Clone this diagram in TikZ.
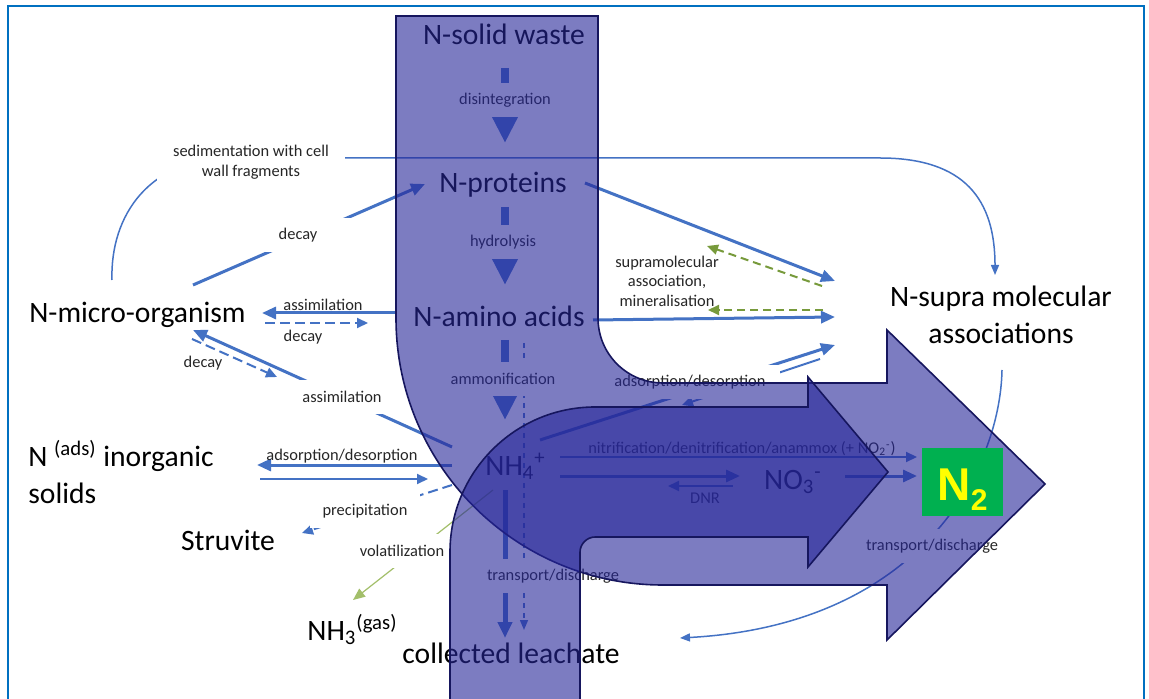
\documentclass[tikz,border=0pt]{standalone}
\usepackage{fontspec}
\setmainfont{Carlito}
\newfontfamily\boldsans{Liberation Sans Bold}
\usetikzlibrary{arrows.meta}

\definecolor{framebl}{HTML}{0070C0}
\definecolor{flowbl}{HTML}{4472C4}
\definecolor{bandbl}{HTML}{262699}
\definecolor{bandln}{HTML}{16165E}
\definecolor{olivegr}{HTML}{779A3B}
\definecolor{lightgr}{HTML}{A3BF6A}
\definecolor{ntwogreen}{HTML}{00B050}
\definecolor{ntwotext}{HTML}{FFFF00}

\tikzset{
  big/.style={font=\fontsize{14.8}{18.5}\selectfont, inner sep=0pt, align=center},
  lbl/.style={font=\fontsize{8.2}{9.8}\selectfont, text=black!85, inner sep=1pt, align=center},
  cut/.style={lbl, fill=white, minimum height=17pt, inner xsep=4pt},
  flow/.style={flowbl, line width=1.5pt, -{Triangle[length=7pt,width=6pt]}},
  thinflow/.style={flowbl, line width=1pt, -{Triangle[length=5.5pt,width=5pt]}},
  dashflow/.style={thinflow, dash pattern=on 5pt off 2.5pt},
  greenflow/.style={olivegr, line width=1pt, dash pattern=on 4pt off 2.5pt, -{Triangle[length=5.5pt,width=5pt]}},
  fineflow/.style={flowbl, line width=0.75pt, -{Triangle[length=5pt,width=4pt]}},
  fatflow/.style={flowbl, line width=4pt, -{Triangle[length=13pt,width=12pt]}},
  band/.style={fill=bandbl, fill opacity=0.6, draw=bandln, line width=0.8pt},
  n2box/.style={fill=ntwogreen, text=ntwotext, inner sep=0pt, minimum width=40.5pt,
    text height=26pt, text depth=8pt, font=\boldsans\fontsize{23}{23}\selectfont},
}

\begin{document}
\begin{tikzpicture}[x=0.5pt, y=-0.5pt]
\useasboundingbox (0,0) rectangle (1149,699);
\fill[white] (0,0) rectangle (1149,699);
\draw[framebl, line width=1.4pt] (8,6) rectangle (1144,740);

% end points of the connectors
\coordinate (sol-s) at (505,68);    \coordinate (prot-n) at (505,143);
\coordinate (prot-s) at (505,207);  \coordinate (amino-n) at (505,285);
\coordinate (amino-s) at (505,340); \coordinate (nh-n) at (505,420);
\coordinate (amino-sd) at (524,343); \coordinate (leach-nd) at (524,630);
\coordinate (nh-s) at (505,490);    \coordinate (leach-n) at (505,638);
\coordinate (micro-ne) at (193,285); \coordinate (prot-w) at (425,184);
\coordinate (amino-w) at (397,313); \coordinate (micro-e) at (262,313);
\coordinate (micro-e2) at (265,323); \coordinate (amino-w2) at (368,323);
\coordinate (micro-se) at (192,339); \coordinate (decay-in) at (277,377);
\coordinate (nh-nw) at (452,447);   \coordinate (micro-se2) at (193,330);
\coordinate (nh-w) at (452,465);    \coordinate (inorg-e) at (257,465);
\coordinate (inorg-e2) at (260,479); \coordinate (nh-w2) at (428,479);
\coordinate (nh-sw) at (452,485);   \coordinate (struv-e) at (302,533);
\coordinate (nh-sw2) at (493,490);  \coordinate (nh3-n) at (353,600);
\coordinate (micro-n) at (112,280); \coordinate (supra-n) at (995,275);
\coordinate (prot-e) at (585,183);  \coordinate (supra-w1) at (835,281);
\coordinate (supra-g1) at (822,286); \coordinate (supram-ne) at (707,246);
\coordinate (amino-e) at (593,320); \coordinate (supra-w2) at (835,317);
\coordinate (supra-g2) at (823,310); \coordinate (supram-e) at (708,310);
\coordinate (nh-ne) at (540,440);   \coordinate (supra-w3) at (835,345);
\coordinate (supra-w4) at (820,359); \coordinate (nh-ne2) at (682,405);
\coordinate (nh-e1) at (560,457);   \coordinate (n2-w1) at (917,457);
\coordinate (nh-e2) at (560,476);   \coordinate (no3-w) at (740,476);
\coordinate (no3-sw) at (733,486);  \coordinate (nh-e3) at (668,486);
\coordinate (no3-e) at (845,476);   \coordinate (n2-w2) at (917,476);
\coordinate (supra-s) at (1002,370); \coordinate (out-end) at (680,638);

% main chain
\draw[fatflow] (sol-s) -- (prot-n);
\draw[fatflow] (prot-s) -- (amino-n);
\draw[fatflow] (amino-s) -- (nh-n);
\draw[fatflow, line width=2.5pt, -{Triangle[length=8pt,width=7pt]}] (nh-s) -- (leach-n);
\draw[fineflow, dash pattern=on 2.5pt off 2.5pt] (amino-sd) -- (leach-nd);

% micro-organisms
\draw[flow] (micro-ne) -- (prot-w);
\draw[flow] (amino-w) -- (micro-e);
\draw[dashflow] (micro-e2) -- (amino-w2);
\draw[dashflow] (micro-se) -- (decay-in);
\draw[flow] (nh-nw) -- (micro-se2);
\draw[fineflow] (micro-n) .. controls (110,215) and (150,158) .. (230,158)
  -- (880,158) .. controls (965,158) and (995,200) .. (supra-n);

% inorganic side
\draw[flow] (nh-w) -- (inorg-e);
\draw[thinflow] (inorg-e2) -- (nh-w2);
\draw[dashflow] (nh-sw) -- (struv-e);
\draw[lightgr, line width=0.6pt, -{Triangle[length=6pt,width=5pt]}] (nh-sw2) -- (nh3-n);

% supra molecular side
\draw[flow] (prot-e) -- (supra-w1);
\draw[greenflow] (supra-g1) -- (supram-ne);
\draw[flow] (amino-e) -- (supra-w2);
\draw[greenflow] (supra-g2) -- (supram-e);
\draw[flow] (nh-ne) -- (supra-w3);
\draw[thinflow] (supra-w4) -- (nh-ne2);
\draw[fineflow] (supra-s) .. controls (1000,470) and (920,625) .. (out-end);

% nitrogen removal
\draw[thinflow] (nh-e1) -- (n2-w1);
\draw[flow] (nh-e2) -- (no3-w);
\draw[thinflow] (no3-sw) -- (nh-e3);
\draw[flow] (no3-e) -- (n2-w2);

% process labels
\node[cut] (disint) at (505,100) {disintegration};
\node[cut] (hydro) at (503,242) {hydrolysis};
\node[cut] (ammon) at (503,379) {ammonification};
\node[cut, minimum width=94pt, minimum height=25.5pt] (sedim) at (251,162) {sedimentation with cell\\wall fragments};
\node[cut, minimum width=55pt] (decayA) at (298,235) {decay};
\node[lbl] (assimA) at (323,305) {assimilation};
\node[lbl] (decayB) at (303,337) {decay};
\node[lbl] (decayC) at (203,363) {decay};
\node[cut, minimum width=50pt] (assimB) at (342,397) {assimilation};
\node[lbl] (supram) at (667,281) {supramolecular\\association,\\mineralisation};
\node[cut, minimum width=90pt] (adsorbA) at (690,382) {adsorption/desorption};
\node[lbl] (adsorbB) at (342,456) {adsorption/desorption};
\node[cut, minimum width=55pt] (precip) at (365,511) {precipitation};
\node[cut, minimum width=50pt] (volat) at (402,551) {volatilization};
\node[lbl] (nitri) at (742,449) {nitrification/denitrification/anammox (+ NO\textsubscript{2}\textsuperscript{-})};
\node[lbl] (dnr) at (705,498) {DNR};
\node[cut] (transA) at (553,576) {transport/discharge};
\node[cut] (transB) at (932,546) {transport/discharge};

% nitrogen pools
\node[big, anchor=base] (solid) at (504,45) {N-solid waste};
\node[big, anchor=base] (prot) at (503,193) {N-proteins};
\node[big, anchor=base] (amino) at (499,327) {N-amino acids};
\node[big, anchor=base] (micro) at (137.5,323) {N-micro-organism};
\node[big] (supra) at (1001,315) {N-supra molecular\\associations};
\node[big, anchor=west, align=left] (inorg) at (28,472) {N \textsuperscript{(ads)} inorganic\\solids};
\node[big, anchor=base west] (nh) at (485,475) {NH\textsubscript{4}\textsuperscript{+}};
\node[big, anchor=base] (no3) at (793,489) {NO\textsubscript{3}\textsuperscript{-}};
\node[big, anchor=base] (struv) at (228,550) {Struvite};
\node[big, anchor=base west] (nh3) at (307,640) {NH\textsubscript{3}\textsuperscript{(gas)}};
\node[big, anchor=base] (leach) at (511,663) {collected leachate};

% bent flow bands
\draw[band] (396,16) -- (598,16) -- (598,318) .. controls (598,354) and (627,383) .. (663,383)
  -- (887,383) -- (887,330) -- (1045,484) -- (887,640) -- (887,585) -- (663,585)
  .. controls (515.5,585) and (396,465.5) .. (396,318) -- cycle;
\draw[band] (450,720) -- (450,552) .. controls (450,472) and (515,407) .. (595,407)
  -- (808,407) -- (808,377) -- (888,472) -- (808,567) -- (808,537) -- (595,537)
  .. controls (587,537) and (580,544) .. (580,552) -- (580,720) -- cycle;

\node[n2box] (ntwo) at (962.5,482) {N\raisebox{-5pt}{\fontsize{15}{15}\selectfont 2}};
\end{tikzpicture}
\end{document}
